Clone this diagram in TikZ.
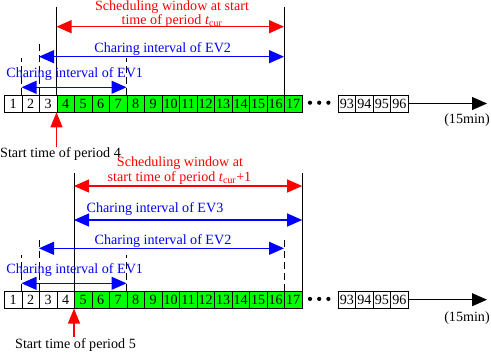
\documentclass[tikz,border=0pt]{standalone}
\usepackage{fontspec}
\setmainfont{Liberation Serif}
\usetikzlibrary{arrows.meta}
\begin{document}
\begin{tikzpicture}[x=1pt,y=-1pt,
  >={Triangle[length=15pt,width=13pt]},
  cell/.style={draw=black,line width=0.7pt,minimum width=17.5pt,minimum height=17pt,inner sep=0pt,anchor=west,font=\fontsize{14.1}{14}\selectfont},
  gcell/.style={cell,fill=green},
  lbl/.style={inner sep=0pt,font=\fontsize{14.1}{14}\selectfont},
  redlbl/.style={lbl,text=red},
  bluelbl/.style={lbl,text=blue},
  redarr/.style={red,line width=1.2pt,<->},
  bluearr/.style={blue,line width=1.2pt,<->},
  upr/.style={red,line width=1.2pt,-{Triangle[length=15pt,width=12pt]}},
  axisarr/.style={black,line width=0.9pt,->},
  winline/.style={black,line width=0.9pt},
  dashline/.style={black,line width=0.8pt,dash pattern=on 7pt off 4pt},
  dotc/.style={fill=black,circle,inner sep=0pt,minimum size=4.2pt}
]
\useasboundingbox (0,0) rectangle (491,354);

% ===== top row =====
\foreach \i in {1,...,17}{
  \pgfmathsetmacro\xx{4+17.5*(\i-1)}
  \ifnum\i<4
    \node[cell] (b\i) at (\xx,103.5) {\i};
  \else
    \node[gcell] (b\i) at (\xx,103.5) {\i};
  \fi
}
\foreach \i [count=\k] in {93,94,95,96}{
  \pgfmathsetmacro\xx{337.7+17.5*(\k-1)}
  \node[cell] (c\i) at (\xx,103.5) {\i};
}
\node[dotc] (t1) at (310,102.7) {};
\node[dotc] (t2) at (319.2,102.7) {};
\node[dotc] (t3) at (328.4,102.7) {};
\coordinate (tend) at (487,103.5);
\draw[axisarr] (c96.east) -- (tend);
\node[lbl] (tmin) at (467,120) {(15min)};

% window lines
\coordinate (tw1) at (b4.north west |- 0,7);
\coordinate (tw2) at (b17.north west |- 0,7);
\draw[winline] (b4.north west) -- (tw1);
\draw[winline] (b17.north west) -- (tw2);
\coordinate (tra) at (b4.north west |- 0,26.7);
\coordinate (trb) at (b17.north west |- 0,26.7);
\draw[redarr] (tra) -- (trb);
\node[redlbl,align=center] (twin) at (172,14) {Scheduling window at start\\time of period \textit{t}\textsubscript{cur}};

% EV2 top
\coordinate (te2t) at (b3.north west |- 0,43);
\draw[dashline] (b3.north west) -- (te2t);
\coordinate (te2a) at (b3.north west |- 0,56.7);
\coordinate (te2b) at (b17.north west |- 0,56.7);
\draw[bluearr] (te2a) -- (te2b);
\node[bluelbl] (tev2) at (162.7,49) {Charing interval of EV2};

% EV1 top
\coordinate (te1t) at (b2.north west |- 0,58);
\coordinate (te1u) at (b8.north west |- 0,58);
\draw[dashline] (b2.north west) -- (te1t);
\draw[dashline] (b8.north west) -- (te1u);
\coordinate (te1a) at (b2.north west |- 0,87.3);
\coordinate (te1b) at (b8.north west |- 0,87.3);
\draw[bluearr] (te1a) -- (te1b);
\node[bluelbl] (tev1) at (74.7,74) {Charing interval of EV1};

% start arrow top
\coordinate (tst) at (b4.south west |- 0,147);
\draw[upr] (tst) -- (b4.south west);
\node[lbl] (tstart) at (60.5,154) {Start time of period 4};

% ===== bottom row =====
\foreach \i in {1,...,17}{
  \pgfmathsetmacro\xx{4+17.5*(\i-1)}
  \ifnum\i<5
    \node[cell] (d\i) at (\xx,299.7) {\i};
  \else
    \node[gcell] (d\i) at (\xx,299.7) {\i};
  \fi
}
\foreach \i [count=\k] in {93,94,95,96}{
  \pgfmathsetmacro\xx{337.7+17.5*(\k-1)}
  \node[cell] (e\i) at (\xx,299.7) {\i};
}
\node[dotc] (u1) at (310,298.9) {};
\node[dotc] (u2) at (319.2,298.9) {};
\node[dotc] (u3) at (328.4,298.9) {};
\coordinate (uend) at (487,299.7);
\draw[axisarr] (e96.east) -- (uend);
\node[lbl] (umin) at (467,318.3) {(15min)};

% window lines
\coordinate (uw1) at (d5.north west |- 0,172.7);
\coordinate (uw2) at (d17.north east |- 0,172.7);
\draw[winline] (d5.north west) -- (uw1);
\draw[winline] (d17.north east) -- (uw2);
\coordinate (ura) at (d5.north west |- 0,186);
\coordinate (urb) at (d17.north east |- 0,186);
\draw[redarr] (ura) -- (urb);
\node[redlbl] (uwin1) at (180,163.5) {Scheduling window at};
\node[redlbl] (uwin2) at (179.5,178.3) {start time of period \textit{t}\textsubscript{cur}+1};

% EV3
\coordinate (ue3a) at (d5.north west |- 0,220);
\coordinate (ue3b) at (d17.north east |- 0,220);
\draw[bluearr] (ue3a) -- (ue3b);
\node[bluelbl] (uev3) at (155,209.5) {Charing interval of EV3};

% EV2 bottom
\coordinate (ue2t) at (d3.north west |- 0,240);
\coordinate (ue2u) at (d17.north west |- 0,238);
\draw[dashline] (d3.north west) -- (ue2t);
\draw[dashline] (d17.north west) -- (ue2u);
\coordinate (ue2a) at (d3.north west |- 0,248.3);
\coordinate (ue2b) at (d17.north west |- 0,248.3);
\draw[bluearr] (ue2a) -- (ue2b);
\node[bluelbl] (uev2) at (163,241) {Charing interval of EV2};

% EV1 bottom
\coordinate (ue1t) at (d2.north west |- 0,255);
\coordinate (ue1u) at (d8.north west |- 0,255);
\draw[dashline] (d2.north west) -- (ue1t);
\draw[dashline] (d8.north west) -- (ue1u);
\coordinate (ue1a) at (d2.north west |- 0,283.3);
\coordinate (ue1b) at (d8.north west |- 0,283.3);
\draw[bluearr] (ue1a) -- (ue1b);
\node[bluelbl] (uev1) at (74.7,270) {Charing interval of EV1};

% start arrow bottom
\coordinate (ust) at (d5.south west |- 0,337);
\draw[upr] (ust) -- (d5.south west);
\node[lbl] (ustart) at (75.5,345) {Start time of period 5};
\end{tikzpicture}
\end{document}
